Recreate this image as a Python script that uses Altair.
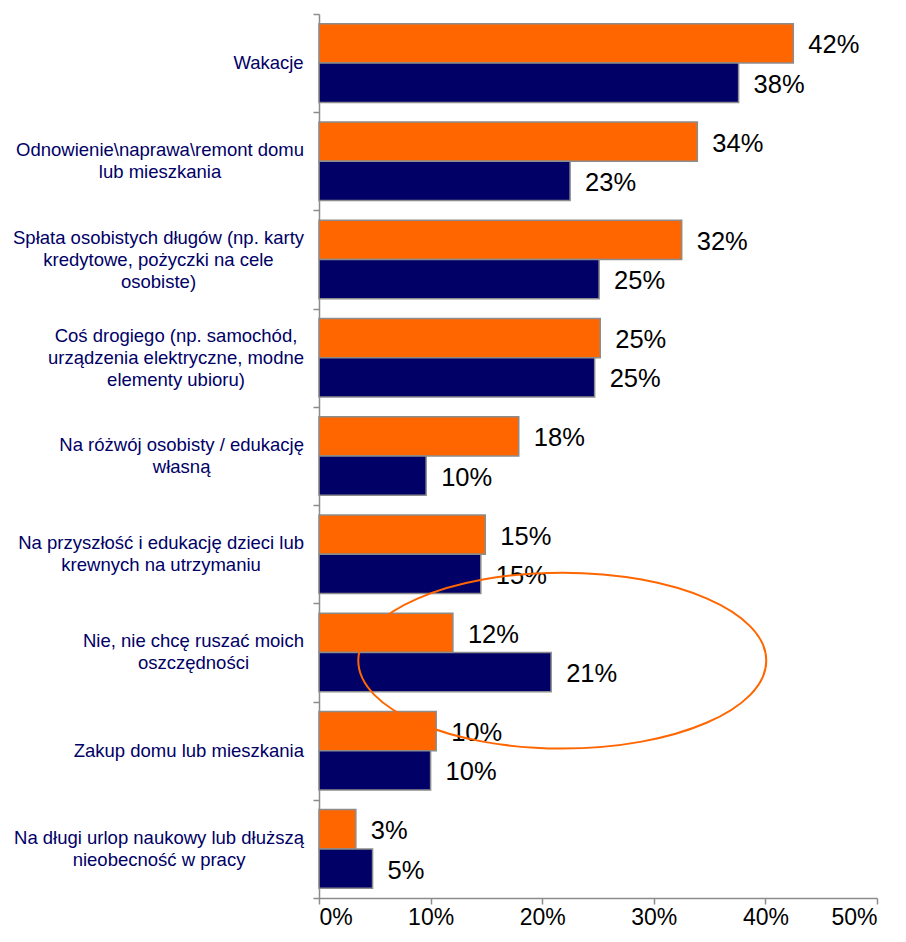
import altair as alt
import pandas as pd

categories = [
    "Wakacje",
    "Odnowienie\\naprawa\\remont domu|lub mieszkania",
    "Spłata osobistych długów (np. karty|kredytowe, pożyczki na cele|osobiste)",
    "Coś drogiego (np. samochód,|urządzenia elektryczne, modne|elementy ubioru)",
    "Na różwój osobisty / edukację|własną",
    "Na przyszłość i edukację dzieci lub|krewnych na utrzymaniu",
    "Nie, nie chcę ruszać moich|oszczędności",
    "Zakup domu lub mieszkania",
    "Na długi urlop naukowy lub dłuższą|nieobecność w pracy",
]
series = ["Seria 1", "Seria 2"]
orange_values = [42.5, 33.9, 32.5, 25.2, 17.9, 14.9, 12.0, 10.5, 3.3]
navy_values = [37.6, 22.5, 25.1, 24.7, 9.6, 14.5, 20.8, 10.0, 4.8]
orange_labels = ["42%", "34%", "32%", "25%", "18%", "15%", "12%", "10%", "3%"]
navy_labels = ["38%", "23%", "25%", "25%", "10%", "15%", "21%", "10%", "5%"]
x_ticks = [0, 10, 20, 30, 40, 50]

# annotation ellipse around the "Nie, nie chcę..." group
ellipse_value = 21.8
ellipse_category = categories[6]

FONT = "Liberation Sans"
CAT_FONT_SIZE = 18.5
CAT_LINE_HEIGHT = 22
GRAY = "#8c8c8c"
ORANGE = "#FF6600"
NAVY = "#000066"

# --- category labels: lines centred within a block whose right edge sits left of the axis ---
_w = {" ": 278, "(": 333, ")": 333, ",": 278, ".": 278, "/": 278, "\\": 278,
      "a": 556, "b": 556, "c": 500, "d": 556, "e": 556, "f": 278, "g": 556, "h": 556, "i": 222,
      "j": 222, "k": 500, "l": 222, "m": 833, "n": 556, "o": 556, "p": 556, "q": 556, "r": 333,
      "s": 500, "t": 278, "u": 556, "v": 500, "w": 722, "x": 500, "y": 500, "z": 500,
      "ą": 556, "ę": 556, "ł": 222, "ś": 500, "ć": 500, "ż": 500, "ź": 500, "ó": 556, "ń": 556,
      "C": 722, "N": 722, "O": 778, "S": 667, "W": 944, "Z": 611}


def _width_px(s):
    return sum(_w.get(ch, 556) for ch in s) / 1000.0 * CAT_FONT_SIZE


label_rows = []
for c in categories:
    lines = c.split("|")
    bw = max(_width_px(l) for l in lines)
    label_rows.append({"category": c, "text": c, "lx": -15 - bw / 2, "nlines": len(lines)})
label_df = pd.DataFrame(label_rows)

rows = []
for i, c in enumerate(categories):
    rows.append({"category": c, "series": series[0], "value": orange_values[i], "label": orange_labels[i]})
    rows.append({"category": c, "series": series[1], "value": navy_values[i], "label": navy_labels[i]})
df = pd.DataFrame(rows)

y_enc = alt.Y(
    "category:N",
    sort=categories,
    scale=alt.Scale(paddingInner=0, paddingOuter=0),
    axis=alt.Axis(
        title=None,
        labels=False,
        tickBand="extent",
        tickSize=6,
        tickColor=GRAY,
        domainColor=GRAY,
        domainWidth=1.5,
        tickWidth=1.5,
    ),
)
yoff_enc = alt.YOffset(
    "series:N", sort=series, scale=alt.Scale(paddingOuter=0.25, paddingInner=0)
)
x_scale = alt.Scale(domain=[0, 50], nice=False)

base = alt.Chart(df).encode(y=y_enc, yOffset=yoff_enc)

bars = base.mark_bar(stroke=GRAY, strokeWidth=1.5).encode(
    x=alt.X(
        "value:Q",
        scale=x_scale,
        axis=alt.Axis(
            title=None,
            values=x_ticks,
            labelExpr="datum.value + '%'",
            grid=False,
            labelFont=FONT,
            labelFontSize=23,
            labelColor="black",
            labelPadding=2,
            tickSize=6,
            tickColor=GRAY,
            domainColor=GRAY,
            domainWidth=1.5,
            tickWidth=1.5,
        ),
    ),
    color=alt.Color("series:N", scale=alt.Scale(domain=series, range=[ORANGE, NAVY]), legend=None),
)

texts = base.mark_text(
    align="left", baseline="middle", dx=15, dy=2, fontSize=25.5, font=FONT, color="black"
).encode(x=alt.X("value:Q", scale=x_scale), text="label:N")

cat_labels = alt.Chart(label_df).mark_text(
    align="center", baseline="middle", lineBreak="|", lineHeight=CAT_LINE_HEIGHT,
    font=FONT, fontSize=CAT_FONT_SIZE, color=NAVY,
    dy=alt.ExprRef(f"-(datum.nlines - 1) * {CAT_LINE_HEIGHT} / 2"),
).encode(
    x=alt.X("lx:Q", scale=None),
    y=alt.Y("category:N", sort=categories),
    text="text:N",
)

k = 0.5523
r = 0.431
oy = 0.04
ellipse_path = (
    f"M-1,{oy} C-1,{oy - r*k:.4f} {-k},{oy - r:.4f} 0,{oy - r:.4f} "
    f"C{k},{oy - r:.4f} 1,{oy - r*k:.4f} 1,{oy} "
    f"C1,{oy + r*k:.4f} {k},{oy + r:.4f} 0,{oy + r:.4f} "
    f"C{-k},{oy + r:.4f} -1,{oy + r*k:.4f} -1,{oy} Z"
)
ell_df = pd.DataFrame({"value": [ellipse_value], "category": [ellipse_category]})
ellipse = alt.Chart(ell_df).mark_point(
    shape=ellipse_path, size=408 * 408, filled=False, stroke=ORANGE, strokeWidth=2, opacity=1
).encode(
    x=alt.X("value:Q", scale=x_scale),
    y=alt.Y("category:N", sort=categories),
)

chart = (
    alt.layer(bars, texts, cat_labels, ellipse)
    .properties(
        width=558,
        height=884,
        autosize=alt.AutoSizeParams(type="none"),
        padding={"left": 311, "top": 6, "right": 21, "bottom": 35},
        background="white",
    )
    .configure_view(stroke=None)
)

chart.save("out.html", embed_options={"renderer": "svg", "actions": False})
